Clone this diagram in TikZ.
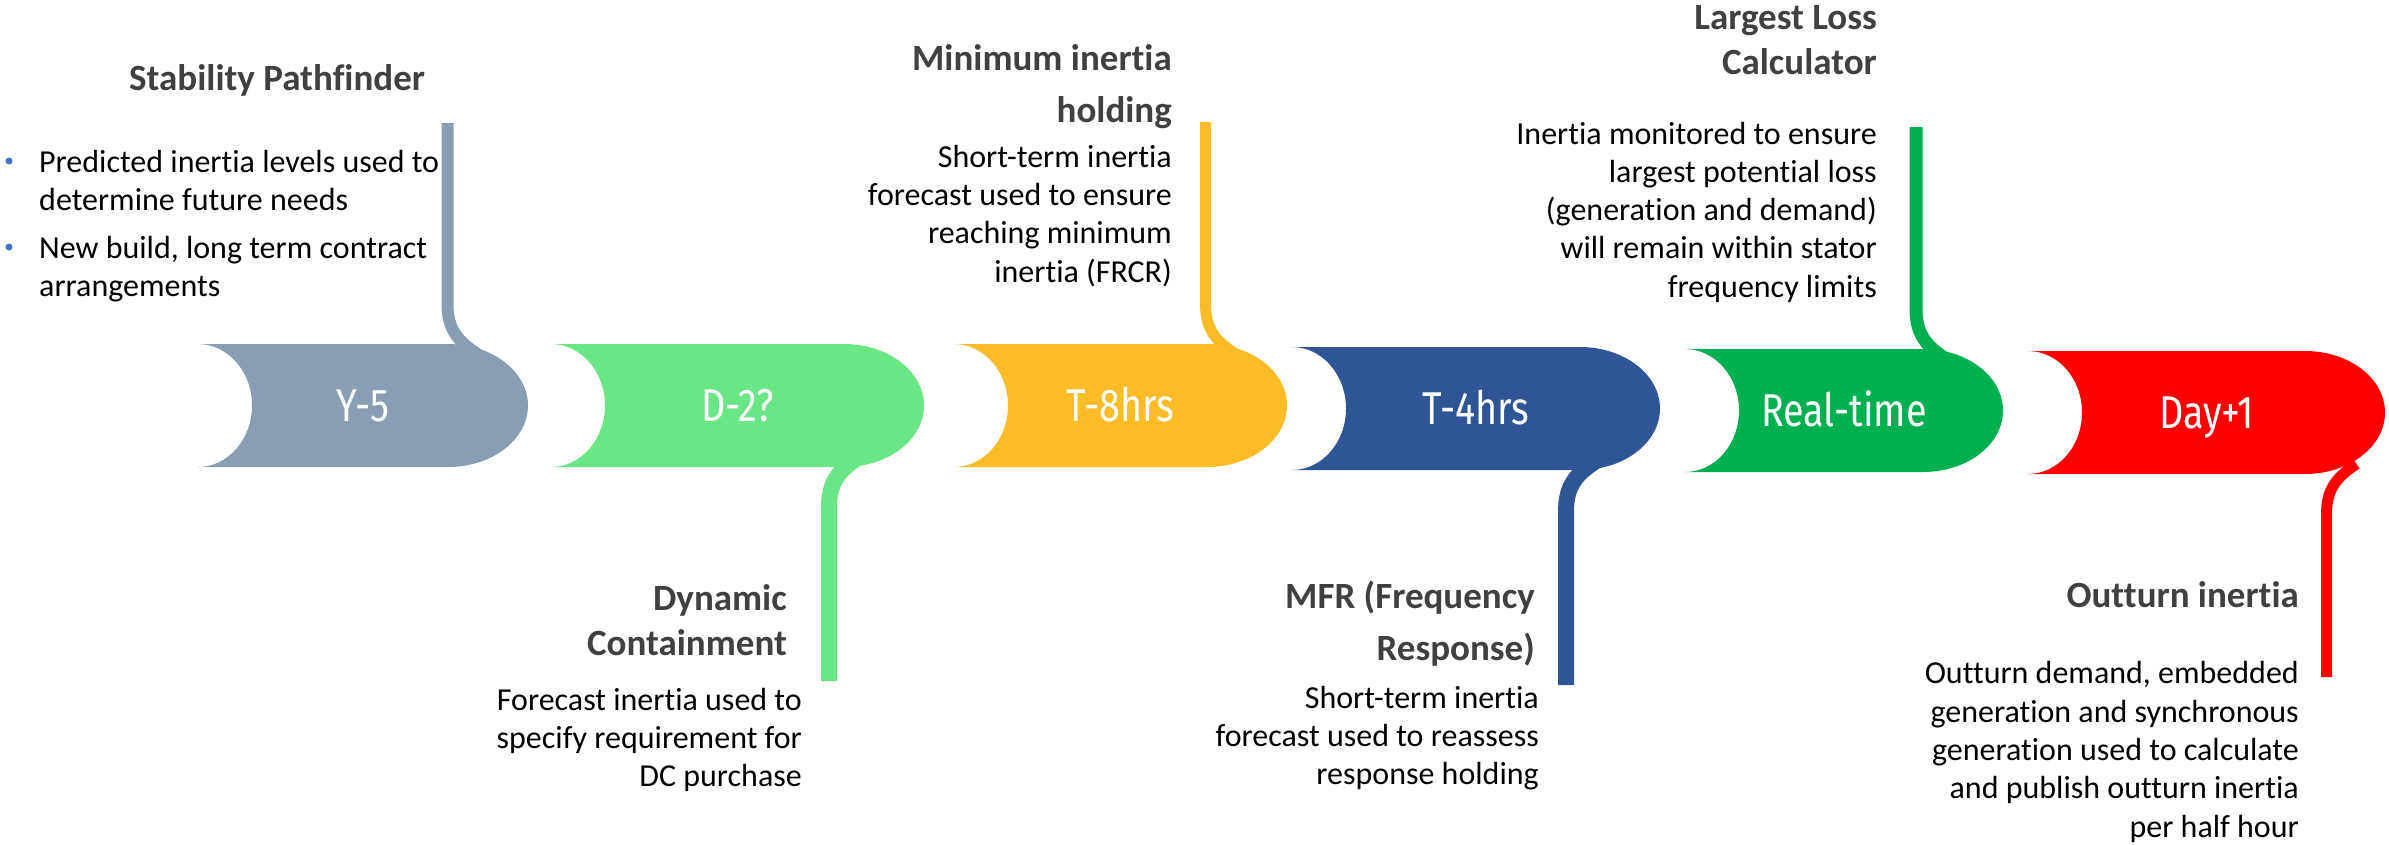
\documentclass[tikz,border=0pt]{standalone}
\usepackage{fontspec}
\setmainfont{Carlito}[Ligatures=NoCommon]
\newfontfamily\labfont[FakeStretch=0.82]{Fira Sans}
\definecolor{cY}{HTML}{8A9EB3}
\definecolor{cD}{HTML}{6AE684}
\definecolor{cTe}{HTML}{FBBC27}
\definecolor{cTf}{HTML}{2F5597}
\definecolor{cRT}{HTML}{00B050}
\definecolor{cDay}{HTML}{FF0000}
\definecolor{headgray}{HTML}{404040}
\definecolor{bulblue}{HTML}{4472C4}
\begin{document}
\begin{tikzpicture}[x=1pt,y=-1pt,
  body/.style={anchor=base east, inner sep=0pt, font=\fontsize{32}{38}\selectfont},
  bodyl/.style={anchor=base west, inner sep=0pt, font=\fontsize{32}{38}\selectfont},
  head/.style={anchor=base east, inner sep=0pt, text=headgray, font=\fontsize{37}{44}\selectfont\bfseries},
  lab/.style={anchor=base, inner sep=0pt, text=white, font=\labfont\fontsize{46}{50}\selectfont},
  stem/.style={line cap=butt}]
\useasboundingbox (0,0) rectangle (2389,844);

% stems
\draw[stem, cY, line width=12pt] (447.5,123) -- (447.5,304) .. controls (447.5,329) and (457.5,341) .. (477.5,354);
\draw[stem, cTe, line width=11pt] (1205.5,122) -- (1205.5,304) .. controls (1205.5,329) and (1215.5,341) .. (1235.5,354);
\draw[stem, cRT, line width=13pt] (1916,127) -- (1916,309) .. controls (1916,334) and (1926,346) .. (1946,359);
\draw[stem, cD, line width=16pt] (829,681) -- (829,507) .. controls (829,482) and (839,470) .. (859,457);
\draw[stem, cTf, line width=16pt] (1566,685) -- (1566,511) .. controls (1566,486) and (1576,474) .. (1596,461);
\draw[stem, cDay, line width=11pt] (2326.5,677) -- (2326.5,514) .. controls (2326.5,489) and (2336.5,477) .. (2356.5,464);

% arrow shapes
\foreach \xl/\xr/\yt/\col in {198/528/344/cY, 551/924/344/cD, 954/1287/344/cTe, 1292/1660/347/cTf, 1685/2003/349/cRT, 2028/2385/351/cDay}{
  \fill[\col] (\xl,\yt) -- ({\xr-80},\yt)
    .. controls ({\xr-80+44.2},\yt) and (\xr,{\yt+61.5-34}) .. (\xr,{\yt+61.5})
    .. controls (\xr,{\yt+61.5+34}) and ({\xr-80+44.2},{\yt+123}) .. ({\xr-80},{\yt+123})
    -- (\xl,{\yt+123})
    .. controls ({\xl+54*0.5523},{\yt+123}) and ({\xl+54},{\yt+61.5+34}) .. ({\xl+54},{\yt+61.5})
    .. controls ({\xl+54},{\yt+61.5-34}) and ({\xl+54*0.5523},\yt) .. cycle;
}

% labels
\node[lab] (lY) at (363,421.5) {Y-5};
\node[lab] (lD) at (737.5,421.5) {D-2?};
\node[lab] (lTe) at (1120.5,421.5) {T-8hrs};
\node[lab] (lTf) at (1476,424.5) {T-4hrs};
\node[lab] (lRT) at (1844,426.5) {Real-time};
\node[lab] (lDay) at (2206.5,428.5) {Day+1};

% Stability Pathfinder
\node[head, anchor=base] (hSP) at (277,90) {Stability Pathfinder};
\fill[bulblue] (9,161) circle (3.5);
\fill[bulblue] (9,247) circle (3.5);
\node[bodyl] (sp1) at (39,172) {Predicted inertia levels used to};
\node[bodyl] (sp2) at (39,210) {determine future needs};
\node[bodyl] (sp3) at (39,258) {New build, long term contract};
\node[bodyl] (sp4) at (39,296) {arrangements};

% Minimum inertia holding
\node[head] (hMI1) at (1172,70) {Minimum inertia};
\node[head] (hMI2) at (1172,122) {holding};
\node[body] (mi1) at (1172,167) {Short-term inertia};
\node[body] (mi2) at (1172,205) {forecast used to ensure};
\node[body] (mi3) at (1172,243) {reaching minimum};
\node[body] (mi4) at (1172,282) {inertia (FRCR)};

% Largest Loss Calculator
\node[head] (hLL1) at (1877,29) {Largest Loss};
\node[head] (hLL2) at (1877,74) {Calculator};
\node[body] (ll1) at (1877,144) {Inertia monitored to ensure};
\node[body] (ll2) at (1877,182) {largest potential loss};
\node[body] (ll3) at (1877,220) {(generation and demand)};
\node[body] (ll4) at (1877,258) {will remain within stator};
\node[body] (ll5) at (1877,297) {frequency limits};

% Dynamic Containment
\node[head] (hDC1) at (787,610) {Dynamic};
\node[head] (hDC2) at (787,655) {Containment};
\node[body] (dc1) at (802,710) {Forecast inertia used to};
\node[body] (dc2) at (802,748) {specify requirement for};
\node[body] (dc3) at (802,786) {DC purchase};

% MFR
\node[head] (hMF1) at (1535,608) {MFR (Frequency};
\node[head] (hMF2) at (1535,660) {Response)};
\node[body] (mf1) at (1539,708) {Short-term inertia};
\node[body] (mf2) at (1539,746) {forecast used to reassess};
\node[body] (mf3) at (1539,784) {response holding};

% Outturn inertia
\node[head] (hOI) at (2299,607) {Outturn inertia};
\node[body] (oi1) at (2299,683) {Outturn demand, embedded};
\node[body] (oi2) at (2299,722) {generation and synchronous};
\node[body] (oi3) at (2299,760) {generation used to calculate};
\node[body] (oi4) at (2299,798) {and publish outturn inertia};
\node[body] (oi5) at (2299,837) {per half hour};
\end{tikzpicture}
\end{document}
